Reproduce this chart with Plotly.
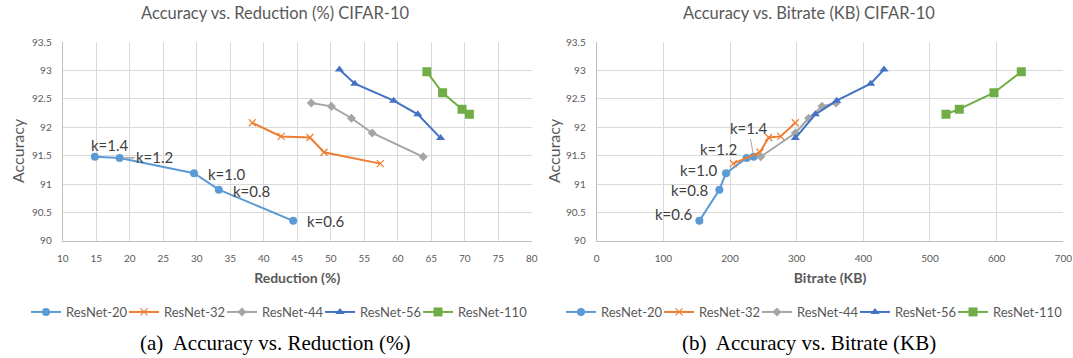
import plotly.graph_objects as go

# ---- data (order: k = 0.6, 0.8, 1.0, 1.2, 1.4) ----
models = ["ResNet-20", "ResNet-32", "ResNet-44", "ResNet-56", "ResNet-110"]

acc_r20 = [90.35, 90.90, 91.19, 91.46, 91.48]
red_r20 = [44.4, 33.3, 29.6, 18.5, 14.8]
bit_r20 = [154, 184, 194, 225, 235.5]

acc_r32 = [91.36, 91.56, 91.82, 91.84, 92.08]
red_r32 = [57.4, 49.0, 46.9, 42.6, 38.3]
bit_r32 = [205, 245, 258, 276, 298]

acc_r44 = [91.48, 91.90, 92.16, 92.37, 92.43]
red_r44 = [63.8, 56.2, 53.1, 50.1, 47.1]
bit_r44 = [246, 298, 318, 338, 359]

acc_r56 = [91.81, 92.23, 92.47, 92.77, 93.02]
red_r56 = [66.4, 63.0, 59.4, 53.6, 51.3]
bit_r56 = [298, 328, 360, 411, 431]

acc_r110 = [92.23, 92.32, 92.61, 92.98]
red_r110 = [70.7, 69.6, 66.7, 64.35]
bit_r110 = [524, 544, 596, 637]

k_labels = ["k=0.6", "k=0.8", "k=1.0", "k=1.2", "k=1.4"]

acc = [acc_r20, acc_r32, acc_r44, acc_r56, acc_r110]
red = [red_r20, red_r32, red_r44, red_r56, red_r110]
bit = [bit_r20, bit_r32, bit_r44, bit_r56, bit_r110]

colors = ["#5B9BD5", "#ED7D31", "#A5A5A5", "#4472C4", "#70AD47"]
symbols = ["circle", "x-thin", "diamond", "triangle-up", "square"]
sizes = [8, 7, 7, 8, 9]

FONT = "Lato"
GRAY = "#595959"

fig = go.Figure()


def add_series(xs, xa, ya, lg):
    for i, m in enumerate(models):
        mk = dict(symbol=symbols[i], size=sizes[i], color=colors[i])
        if symbols[i] == "x-thin":
            mk["line"] = dict(color=colors[i], width=1.2)
        fig.add_trace(go.Scatter(x=xs[i], y=acc[i], mode="lines+markers", name=m,
                                 line=dict(color=colors[i], width=2), marker=mk,
                                 xaxis=xa, yaxis=ya, legend=lg))
    # blank spacer entry so the last legend label is not clipped
    fig.add_trace(go.Scatter(x=[None], y=[None], mode="lines", name=" ",
                             line=dict(color="rgba(0,0,0,0)", width=0),
                             xaxis=xa, yaxis=ya, legend=lg, hoverinfo="skip"))


add_series(red, "x", "y", "legend")
add_series(bit, "x2", "y2", "legend2")

ax_common = dict(showgrid=True, gridcolor="#D9D9D9", gridwidth=1,
                 showline=True, linecolor="#BFBFBF", linewidth=1, automargin=False,
                 zeroline=False, ticks="", tickfont=dict(family=FONT, size=10, color=GRAY),
                 ticklabelstandoff=8)

ydom = [1 - 240.7 / 358, 1 - 42.3 / 358]
legend_common = dict(orientation="h", y=1 - 312 / 358, yanchor="middle", xanchor="left",
                     font=dict(family=FONT, size=13, color=GRAY), itemwidth=30,
                     entrywidth=53, entrywidthmode="pixels", tracegroupgap=0,
                     bgcolor="rgba(0,0,0,0)")
fig.update_layout(
    width=1073, height=358, margin=dict(l=0, r=0, t=0, b=0, autoexpand=False),
    paper_bgcolor="white", plot_bgcolor="white",
    font=dict(family=FONT, color=GRAY),
    xaxis=dict(domain=[62.7 / 1073, 531.7 / 1073], range=[10, 80], dtick=5, anchor="y",
               title=dict(text="<b>Reduction (%)</b>", font=dict(size=14, color=GRAY), standoff=10),
               **ax_common),
    yaxis=dict(domain=ydom, range=[90, 93.5], dtick=0.5, anchor="x", **ax_common),
    xaxis2=dict(domain=[596.7 / 1073, 1063.3 / 1073], range=[0, 700], dtick=100, anchor="y2",
                title=dict(text="<b>Bitrate (KB)</b>", font=dict(size=14, color=GRAY), standoff=10),
                **ax_common),
    yaxis2=dict(domain=ydom, range=[90, 93.5], dtick=0.5, anchor="x2", **ax_common),
    legend=dict(x=26 / 1073, **legend_common),
    legend2=dict(x=561 / 1073, **legend_common),
    showlegend=True,
)

annots = []
# chart titles
annots.append(dict(text="Accuracy vs. Reduction (%) CIFAR-10", xref="paper", yref="paper",
                   x=275 / 1073, y=1 - 13 / 358, xanchor="center", yanchor="middle", showarrow=False,
                   font=dict(family=FONT, size=16.5, color=GRAY)))
annots.append(dict(text="Accuracy vs. Bitrate (KB) CIFAR-10", xref="paper", yref="paper",
                   x=809 / 1073, y=1 - 13 / 358, xanchor="center", yanchor="middle", showarrow=False,
                   font=dict(family=FONT, size=16.5, color=GRAY)))
# y-axis titles
for xp in (17, 553):
    annots.append(dict(text="Accuracy", xref="paper", yref="paper", x=xp / 1073, y=1 - 151 / 358,
                       xanchor="center", yanchor="middle", textangle=-90, showarrow=False,
                       font=dict(family=FONT, size=16, color=GRAY)))
# captions
annots.append(dict(text="(a)  Accuracy vs. Reduction (%)", xref="paper", yref="paper",
                   x=275 / 1073, y=1 - 343 / 358, xanchor="center", yanchor="middle", showarrow=False,
                   font=dict(family="Liberation Serif", size=21, color="black")))
annots.append(dict(text="(b)  Accuracy vs. Bitrate (KB)", xref="paper", yref="paper",
                   x=809 / 1073, y=1 - 343 / 358, xanchor="center", yanchor="middle", showarrow=False,
                   font=dict(family="Liberation Serif", size=21, color="black")))

kfont = dict(family=FONT, size=15, color="#404040")
# left chart k labels (left-anchored text positions)
left_pos = [(46.1, 90.35), (35.1, 90.88), (31.4, 91.18), (20.8, 91.47), (13.9, 91.69)]
for lab, (px, py) in zip(k_labels, left_pos):
    if lab == "k=1.2":
        continue
    annots.append(dict(text=lab, x=px, y=py, xref="x", yref="y", xanchor="left", yanchor="middle",
                       showarrow=False, font=kfont))
annots.append(dict(text="k=1.2", x=red_r20[3], y=acc_r20[3], xref="x", yref="y",
                   ax=23.7, ay=91.47, axref="x", ayref="y", showarrow=True, arrowhead=0,
                   arrowwidth=1.5, arrowcolor="#A5A5A5", standoff=3, font=kfont))
# right chart k labels (right-anchored)
right_pos = [(147.2, 90.47), (170.5, 90.89), (184.4, 91.24), (213.0, 91.61)]
for lab, (px, py) in zip(k_labels[:4], right_pos):
    annots.append(dict(text=lab, x=px, y=py, xref="x2", yref="y2", xanchor="right", yanchor="middle",
                       showarrow=False, font=kfont))
annots.append(dict(text="k=1.4", x=bit_r20[4], y=acc_r20[4], xref="x2", yref="y2",
                   ax=228, ay=91.98, axref="x2", ayref="y2", showarrow=True, arrowhead=0,
                   arrowwidth=1, arrowcolor="#A5A5A5", standoff=4, font=kfont))

fig.update_layout(annotations=annots)
fig.write_html("out.html", config={"displayModeBar": False},
               post_script="document.body.style.margin='0';document.body.style.overflow='hidden';")
